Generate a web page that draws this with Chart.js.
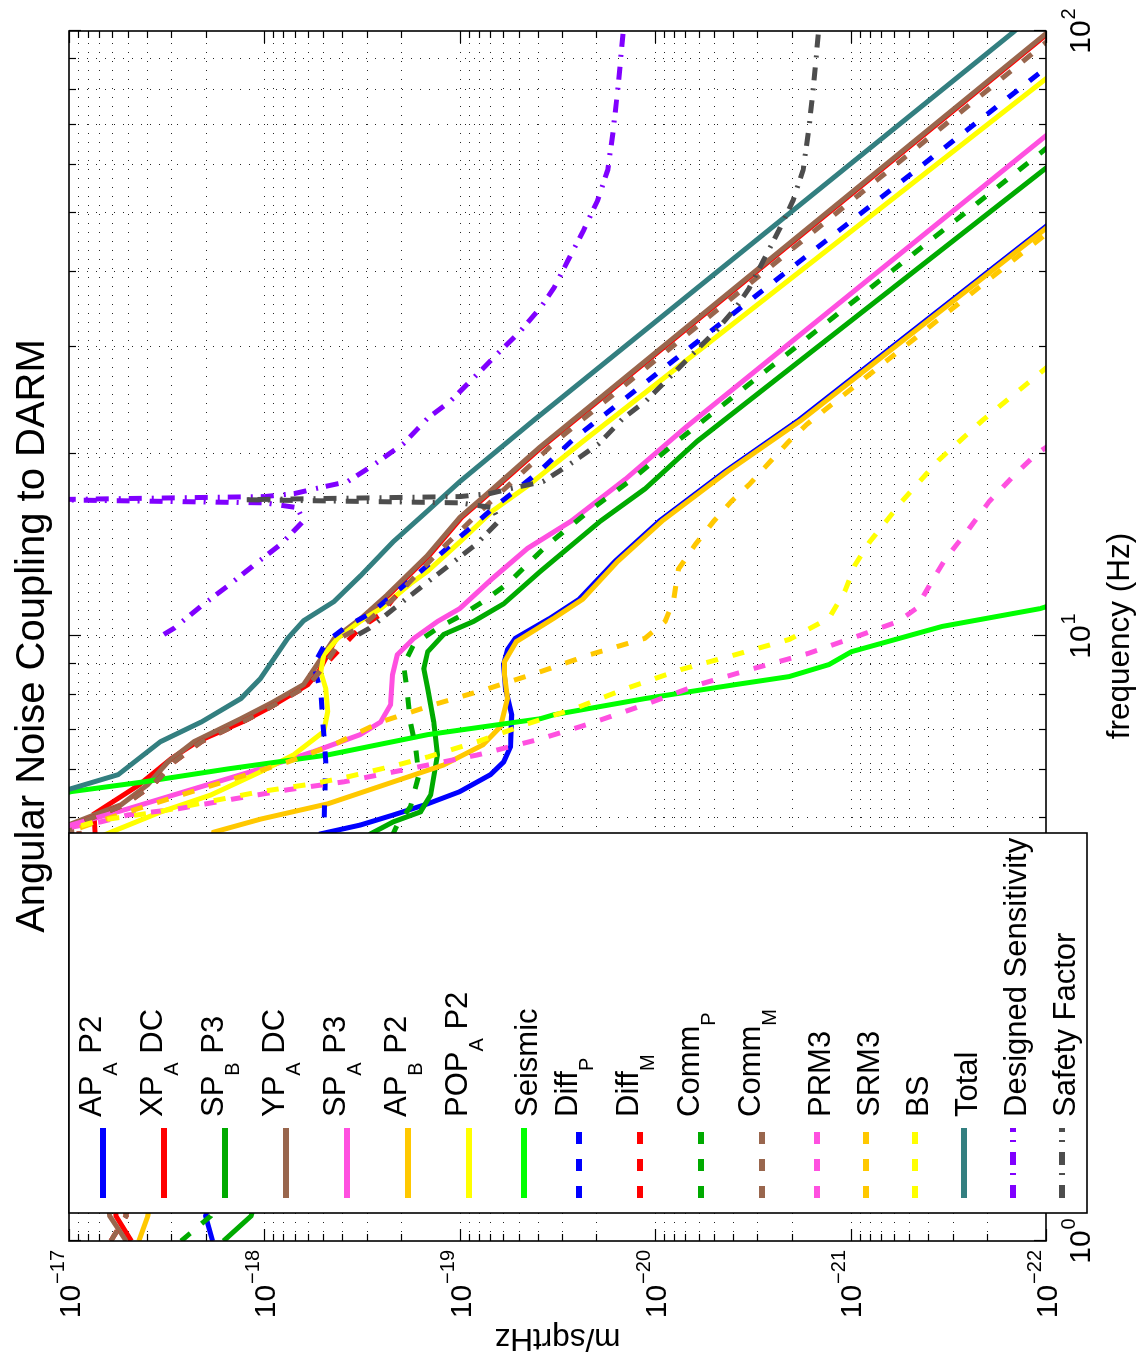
<!DOCTYPE html>
<html>
<head>
<meta charset="utf-8">
<title>Angular Noise Coupling to DARM</title>
<script src="https://cdn.jsdelivr.net/npm/chart.js@4.4.1/dist/chart.umd.min.js"></script>
<style>
  html, body { margin: 0; padding: 0; background: #fff; overflow: hidden; }
  /* the figure is drawn upright and turned a quarter turn, like the original export */
  #page { position: absolute; left: 0; top: 0; width: 1364px; height: 1137px;
          transform-origin: 0 0; transform: translateY(1364px) rotate(-90deg); background: #fff; }
  #chart { display: block; }
</style>
</head>
<body>
<div id="page"><canvas id="chart" width="1364" height="1137" style="width:1364px;height:1137px"></canvas></div>
<script>
// axes
const freqDecades = [1, 10, 100];
const freqTickLabels = ['0', '1', '2'];
const valueDecades = [1e-22, 1e-21, 1e-20, 1e-19, 1e-18, 1e-17];
const valueTickLabels = ['\u221222', '\u221221', '\u221220', '\u221219', '\u221218', '\u221217'];

// series (frequency in Hz, value in m/sqrtHz)
const apAP2Freq = [1.0, 1.1, 4.71, 4.87, 5.06, 5.28, 5.53, 5.90, 6.19, 6.56, 7.41, 8.18, 8.97, 9.50, 9.91, 10.7, 11.5, 13.3, 15.5, 18.7, 22.7, 47.3, 55];
const apAP2Val = [1.84e-18, 2.0e-18, 5.15e-19, 3.23e-19, 2.19e-19, 1.46e-19, 1.0e-19, 6.97e-20, 5.97e-20, 5.5e-20, 5.43e-20, 5.83e-20, 5.97e-20, 5.7e-20, 5.2e-20, 3.45e-20, 2.45e-20, 1.6e-20, 9.5e-21, 4.4e-21, 1.86e-21, 1.02e-22, 5.7e-23];

const xpADCFreq = [1.0, 1.1, 5.08, 5.67, 6.27, 6.69, 7.21, 7.59, 8.31, 8.73, 9.9, 10.7, 11.7, 13.6, 15.7, 17.5, 20.5, 99.3, 105];
const xpADCVal = [4.8e-18, 5.75e-18, 7.45e-18, 4.39e-18, 3.0e-18, 2.2e-18, 1.3e-18, 9.6e-19, 6.0e-19, 5.27e-19, 4.3e-19, 3.12e-19, 2.3e-19, 1.43e-19, 9.8e-20, 6.65e-20, 3.82e-20, 9.7e-23, 7.8e-23];

const spBP3Freq = [1.0, 1.1, 4.71, 4.93, 5.12, 5.46, 6.36, 7.21, 8.18, 8.83, 9.42, 10.06, 10.57, 11.3, 12.8, 15.5, 17.5, 21.0, 59.5, 70.8];
const spBP3Val = [1.62e-18, 1.17e-18, 2.86e-19, 2.19e-19, 1.59e-19, 1.41e-19, 1.30e-19, 1.36e-19, 1.46e-19, 1.53e-19, 1.46e-19, 1.21e-19, 8.5e-20, 5.97e-20, 3.86e-20, 1.9e-20, 1.13e-20, 6.08e-21, 9.9e-23, 5e-23];

const ypADCFreq = [1.0, 1.1, 4.89, 5.06, 5.26, 5.68, 6.19, 6.69, 7.30, 7.79, 8.31, 8.97, 9.9, 10.7, 11.7, 13.6, 15.7, 17.5, 20.5, 99.3, 105];
const ypADCVal = [5.1e-18, 6.2e-18, 9.77e-18, 7.45e-18, 5.42e-18, 3.95e-18, 3.12e-18, 2.29e-18, 1.32e-18, 8.95e-19, 6.3e-19, 5.37e-19, 4.4e-19, 3.2e-19, 2.35e-19, 1.46e-19, 1.0e-19, 6.8e-20, 3.9e-20, 9.9e-23, 8.0e-23];

const spAP3Freq = [4.0, 4.87, 5.18, 5.59, 6.03, 6.44, 6.87, 7.21, 7.70, 8.63, 9.31, 9.91, 10.57, 11.1, 12.45, 13.96, 15.5, 18.2, 22.1, 67.3, 100];
const spAP3Val = [7e-17, 9.77e-18, 5.0e-18, 2.29e-18, 1.05e-18, 5.6e-19, 3.24e-19, 2.54e-19, 2.26e-19, 2.21e-19, 2.09e-19, 1.72e-19, 1.30e-19, 1.0e-19, 6.8e-20, 4.5e-20, 2.68e-20, 1.41e-20, 7.0e-21, 9.9e-23, 2.2e-23];

const apBP2Freq = [1.0, 1.1, 4.74, 4.98, 5.28, 5.74, 6.12, 6.61, 7.08, 7.88, 8.63, 9.07, 9.79, 10.7, 11.5, 13.3, 15.5, 18.7, 22.7, 47.3, 55];
const apBP2Val = [4.39e-18, 3.95e-18, 1.82e-18, 1.05e-18, 4.74e-19, 2.19e-19, 1.21e-19, 7.6e-20, 6.2e-20, 5.7e-20, 5.9e-20, 5.9e-20, 5.13e-20, 3.3e-20, 2.35e-20, 1.55e-20, 9.2e-21, 4.27e-21, 1.8e-21, 9.9e-23, 5.5e-23];

const popAP2Freq = [4.0, 4.74, 5.12, 5.46, 5.96, 6.36, 6.95, 7.5, 8.18, 8.73, 9.31, 9.91, 10.57, 11.1, 12.2, 12.8, 14.3, 16.1, 17.7, 21.0, 83.6, 100];
const popAP2Val = [2.1e-17, 6.1e-18, 3.39e-18, 1.88e-18, 1.05e-18, 7.1e-19, 4.97e-19, 4.74e-19, 4.85e-19, 5.15e-19, 4.97e-19, 4.22e-19, 3.24e-19, 2.54e-19, 1.79e-19, 1.46e-19, 1.0e-19, 6.8e-20, 4.5e-20, 2.33e-20, 9.9e-23, 4.9e-23];

const seismicFreq = [5.0, 5.53, 5.74, 6.03, 6.36, 6.87, 7.30, 7.41, 7.88, 8.31, 8.57, 8.97, 9.42, 10.37, 11.1, 11.6];
const seismicVal = [3e-17, 9.77e-18, 4.14e-18, 1.54e-18, 4.74e-19, 1.46e-19, 3.86e-20, 3.3e-20, 1.13e-20, 3.9e-21, 2.06e-21, 1.29e-21, 9.9e-22, 3.4e-22, 1.07e-22, 7e-23];

const diffPFreq = [3.0, 4.74, 6.2, 8.09, 8.97, 9.79, 10.4, 10.9, 12.5, 14.3, 16.3, 18.6, 21.2, 87.1, 100];
const diffPVal = [5.0e-19, 4.97e-19, 4.85e-19, 5.15e-19, 5.6e-19, 4.8e-19, 3.75e-19, 2.86e-19, 1.72e-19, 1.07e-19, 6.7e-20, 4.0e-20, 2.6e-20, 9.9e-23, 5.8e-23];

const diffMFreq = [1.0, 1.1, 4.9, 5.26, 5.68, 6.19, 6.69, 7.30, 7.79, 8.31, 8.9, 9.6, 10.3, 10.9, 11.5, 12.2];
const diffMVal = [6.1e-18, 5.1e-18, 9.0e-18, 5.2e-18, 3.7e-18, 2.9e-18, 2.1e-18, 1.2e-18, 8.3e-19, 5.9e-19, 5.0e-19, 4.0e-19, 3.25e-19, 2.5e-19, 2.2e-19, 1.85e-19];

const commPFreq = [1.0, 1.1, 4.87, 5.22, 5.89, 6.51, 7.21, 8.0, 8.97, 9.68, 10.3, 10.8, 11.4, 12.2, 14.1, 16.1, 18.2, 21.0, 62.8, 70.8];
const commPVal = [2.67e-18, 1.88e-18, 2.09e-19, 1.79e-19, 1.62e-19, 1.68e-19, 1.79e-19, 1.85e-19, 1.94e-19, 1.72e-19, 1.30e-19, 9.9e-20, 7.6e-20, 5.7e-20, 3.6e-20, 2.18e-20, 1.3e-20, 7.7e-21, 1.07e-22, 6.8e-23];

const commMFreq = [1.0, 1.1, 4.9, 5.26, 5.68, 6.19, 6.69, 7.30, 7.79, 8.31, 8.97, 9.98, 10.4, 11.5, 14.0, 16.1, 18.5, 21.2, 89.5, 100];
const commMVal = [6.1e-18, 5.1e-18, 9.0e-18, 5.2e-18, 3.7e-18, 2.9e-18, 2.1e-18, 1.2e-18, 8.3e-19, 5.9e-19, 4.9e-19, 3.95e-19, 3.15e-19, 2.2e-19, 1.22e-19, 7.8e-20, 4.9e-20, 3.1e-20, 1.29e-22, 8.5e-23];

const prm3Freq = [4.6, 4.83, 4.93, 5.06, 5.18, 5.38, 5.57, 5.74, 5.96, 6.12, 6.36, 6.76, 7.16, 7.70, 8.31, 8.83, 9.35, 10.06, 10.57, 11.1, 12.2, 13.4, 14.9, 16.7, 18.5, 20.0, 21.5];
const prm3Val = [1.8e-17, 9.77e-18, 6.86e-18, 5.0e-18, 2.77e-18, 1.43e-18, 7.6e-19, 3.93e-19, 2.19e-19, 1.46e-19, 8.1e-20, 3.86e-20, 2.17e-20, 1.13e-20, 6.0e-21, 3.16e-21, 1.66e-21, 8.7e-22, 5.7e-22, 4.62e-22, 3.9e-22, 3.28e-22, 2.53e-22, 1.95e-22, 1.44e-22, 1.12e-22, 8e-23];

const srm3Freq = [4.5, 4.87, 5.12, 5.46, 5.81, 6.19, 6.61, 7.21, 7.70, 8.18, 8.73, 9.31, 9.91, 10.57, 11.4, 12.9, 14.2, 15.5, 16.7, 17.8, 19.5, 21.0, 22.4, 47.3, 55];
const srm3Val = [1.6e-17, 8.0e-18, 5.0e-18, 2.67e-18, 1.43e-18, 7.6e-19, 4.42e-19, 2.54e-19, 1.36e-19, 7.2e-20, 3.86e-20, 2.17e-20, 1.13e-20, 8.9e-21, 8.07e-21, 7.6e-21, 6.2e-21, 5.0e-21, 4.07e-21, 3.3e-21, 2.55e-21, 2.06e-21, 1.67e-21, 9.1e-23, 5.1e-23];

const bsFreq = [4.6, 4.96, 5.12, 5.32, 5.53, 5.70, 5.85, 6.12, 6.31, 6.69, 7.16, 7.59, 8.18, 8.80, 9.31, 9.87, 10.7, 11.85, 13.1, 14.3, 16.7, 19.5, 22.7, 27.8, 30];
const bsVal = [1.6e-17, 6.86e-18, 3.5e-18, 1.95e-18, 1.05e-18, 5.6e-19, 3.75e-19, 2.09e-19, 1.46e-19, 8.1e-20, 4.5e-20, 2.57e-20, 1.42e-20, 7.4e-21, 3.9e-21, 2.06e-21, 1.29e-21, 1.07e-21, 9.5e-22, 8.0e-22, 5.45e-22, 3.56e-22, 2.12e-22, 9.9e-23, 7.5e-23];

const totalFreq = [5.0, 5.59, 5.90, 6.69, 7.21, 7.88, 8.50, 9.91, 10.6, 11.4, 12.6, 14.3, 16.1, 18.0, 22.7, 99.6, 105];
const totalVal = [3e-17, 9.8e-18, 5.6e-18, 3.4e-18, 2.1e-18, 1.32e-18, 1.05e-18, 7.6e-19, 6.3e-19, 4.4e-19, 3.2e-19, 2.2e-19, 1.46e-19, 1.0e-19, 4.2e-20, 1.47e-22, 1.23e-22];

const designedFreq = [10.06, 10.3, 11.2, 12.1, 13.1, 14.2, 15.5, 16.3, 16.6, 16.8, 17.0, 17.2, 17.5, 18.0, 19.2, 20.8, 22.9, 24.5, 26.7, 29.3, 31.9, 34.9, 37.6, 41.7, 46.8, 52.5, 58.9, 68.5, 80.8, 99.3, 105];
const designedVal = [3.27e-18, 2.9e-18, 2.11e-18, 1.54e-18, 1.13e-18, 8.2e-19, 6.3e-19, 6.8e-19, 1.0e-18, 1.3e-17, 1.0e-18, 7.0e-19, 5.58e-19, 3.75e-19, 2.75e-19, 1.94e-19, 1.46e-19, 1.11e-19, 8.5e-20, 6.4e-20, 4.9e-20, 3.86e-20, 3.3e-20, 2.8e-20, 2.33e-20, 1.97e-20, 1.75e-20, 1.64e-20, 1.55e-20, 1.46e-20, 1.44e-20];

const safetyFreq = [10.06, 10.3, 11.2, 12.1, 13.1, 14.2, 15.5, 16.3, 16.6, 16.8, 17.0, 17.2, 17.5, 18.0, 19.2, 20.8, 22.9, 24.5, 26.7, 29.3, 31.9, 34.9, 37.6, 41.7, 46.8, 52.5, 58.9, 68.5, 80.8, 99.3, 105];
const safetyVal = [3.3e-19, 2.9e-19, 2.1e-19, 1.55e-19, 1.13e-19, 8.2e-20, 6.3e-20, 6.8e-20, 1.0e-19, 1.3e-18, 1.0e-19, 7.0e-20, 5.6e-20, 3.75e-20, 2.75e-20, 1.94e-20, 1.46e-20, 1.11e-20, 8.5e-21, 6.4e-21, 4.9e-21, 3.86e-21, 3.3e-21, 2.8e-21, 2.33e-21, 1.97e-21, 1.75e-21, 1.64e-21, 1.55e-21, 1.46e-21, 1.44e-21];

const FONT = '"Liberation Sans", Arial, Helvetica, sans-serif';
const DASH = [12, 15];
const DASHDOT = [13, 10, 2, 8];

// label pieces: [text, isSubscript]
const series = [
  {label: [['AP'], ['A', 1], [' P2']], f: apAP2Freq, v: apAP2Val, color: '#0000ff', dash: []},
  {label: [['XP'], ['A', 1], [' DC']], f: xpADCFreq, v: xpADCVal, color: '#ff0000', dash: []},
  {label: [['SP'], ['B', 1], [' P3']], f: spBP3Freq, v: spBP3Val, color: '#00aa00', dash: []},
  {label: [['YP'], ['A', 1], [' DC']], f: ypADCFreq, v: ypADCVal, color: '#99664d', dash: []},
  {label: [['SP'], ['A', 1], [' P3']], f: spAP3Freq, v: spAP3Val, color: '#ff50e0', dash: []},
  {label: [['AP'], ['B', 1], [' P2']], f: apBP2Freq, v: apBP2Val, color: '#ffc800', dash: []},
  {label: [['POP'], ['A', 1], [' P2']], f: popAP2Freq, v: popAP2Val, color: '#ffff00', dash: []},
  {label: [['Seismic']], f: seismicFreq, v: seismicVal, color: '#00ff00', dash: []},
  {label: [['Diff'], ['P', 1]], f: diffPFreq, v: diffPVal, color: '#0000ff', dash: DASH},
  {label: [['Diff'], ['M', 1]], f: diffMFreq, v: diffMVal, color: '#ff0000', dash: DASH},
  {label: [['Comm'], ['P', 1]], f: commPFreq, v: commPVal, color: '#00aa00', dash: DASH},
  {label: [['Comm'], ['M', 1]], f: commMFreq, v: commMVal, color: '#99664d', dash: DASH},
  {label: [['PRM3']], f: prm3Freq, v: prm3Val, color: '#ff50e0', dash: DASH},
  {label: [['SRM3']], f: srm3Freq, v: srm3Val, color: '#ffc800', dash: DASH},
  {label: [['BS']], f: bsFreq, v: bsVal, color: '#ffff00', dash: DASH},
  {label: [['Total']], f: totalFreq, v: totalVal, color: '#337f80', dash: []},
  {label: [['Designed Sensitivity']], f: designedFreq, v: designedVal, color: '#8000ff', dash: DASHDOT},
  {label: [['Safety Factor']], f: safetyFreq, v: safetyVal, color: '#4d4d4d', dash: DASHDOT}
];

// later series sit on top, as in the original
const datasets = series.map((s, i) => ({
  label: s.label.map(p => p[0]).join(''),
  data: s.f.map((f, k) => ({x: f, y: s.v[k]})),
  borderColor: s.color,
  borderWidth: 5,
  borderDash: s.dash,
  pointRadius: 0,
  tension: 0,
  fill: false,
  clip: 0,
  order: series.length - i
}));

function minorList(decades) {
  const out = [];
  for (let i = 0; i < decades.length - 1; i++) {
    for (let k = 1; k <= 9; k++) out.push({v: decades[i] * k, major: k === 1});
  }
  out.push({v: decades[decades.length - 1], major: true});
  return out;
}

function seg(ctx, x1, y1, x2, y2) {
  ctx.beginPath();
  ctx.moveTo(x1, y1);
  ctx.lineTo(x2, y2);
  ctx.stroke();
}

const matlabAxes = {
  id: 'matlabAxes',
  beforeDatasetsDraw(chart) {
    const {ctx, chartArea: a, scales: {x, y}} = chart;
    const fl = minorList(freqDecades);
    const vl = minorList(valueDecades);
    ctx.save();
    ctx.lineWidth = 1;
    ctx.strokeStyle = 'rgba(0,0,0,0.85)';
    ctx.setLineDash([1, 8]);
    fl.slice(1, -1).forEach(t => {
      const px = Math.round(x.getPixelForValue(t.v)) + 0.5;
      seg(ctx, px, a.top, px, a.bottom);
    });
    vl.slice(1, -1).forEach(t => {
      const py = Math.round(y.getPixelForValue(t.v)) + 0.5;
      seg(ctx, a.left, py, a.right, py);
    });
    ctx.setLineDash([]);
    ctx.strokeStyle = '#000';
    ctx.lineWidth = 1.2;
    fl.forEach(t => {
      const px = Math.round(x.getPixelForValue(t.v)) + 0.5;
      const len = t.major ? 12 : 7;
      seg(ctx, px, a.bottom, px, a.bottom - len);
      seg(ctx, px, a.top, px, a.top + len);
    });
    vl.forEach(t => {
      const py = Math.round(y.getPixelForValue(t.v)) + 0.5;
      const len = t.major ? 12 : 7;
      seg(ctx, a.left, py, a.left + len, py);
      seg(ctx, a.right, py, a.right - len, py);
    });
    ctx.restore();
  },
  afterDatasetsDraw(chart) {
    const {ctx, chartArea: a} = chart;
    ctx.save();
    ctx.strokeStyle = '#000';
    ctx.lineWidth = 1.6;
    ctx.strokeRect(a.left, a.top, a.right - a.left, a.bottom - a.top);
    ctx.restore();
  },
  afterDraw(chart) {
    const {ctx, chartArea: a, scales: {x, y}} = chart;
    ctx.save();
    ctx.fillStyle = '#000';
    ctx.textBaseline = 'alphabetic';

    // frequency tick labels
    freqDecades.forEach((f, i) => {
      const px = x.getPixelForValue(f);
      ctx.font = '30px ' + FONT;
      const w10 = ctx.measureText('10').width;
      ctx.font = '20px ' + FONT;
      const ws = ctx.measureText(freqTickLabels[i]).width;
      const start = px - (w10 + 1 + ws) / 2;
      ctx.textAlign = 'left';
      ctx.font = '30px ' + FONT;
      ctx.fillText('10', start, a.bottom + 44);
      ctx.font = '20px ' + FONT;
      ctx.fillText(freqTickLabels[i], start + w10 + 1, a.bottom + 29);
    });

    // value tick labels
    valueDecades.forEach((v, i) => {
      const py = y.getPixelForValue(v);
      ctx.font = '20px ' + FONT;
      const ws = ctx.measureText(valueTickLabels[i]).width;
      const supStart = a.left - 9 - ws;
      ctx.textAlign = 'left';
      ctx.fillText(valueTickLabels[i], supStart, py - 5.5);
      ctx.font = '30px ' + FONT;
      ctx.textAlign = 'right';
      ctx.fillText('10', supStart - 1, py + 10.7);
    });

    // title and axis labels
    const cx = (a.left + a.right) / 2;
    ctx.textAlign = 'center';
    ctx.font = '40px ' + FONT;
    ctx.fillText('Angular Noise Coupling to DARM', cx, 44);
    ctx.font = '31.5px ' + FONT;
    ctx.fillText('frequency (Hz)', cx, 1129);
    ctx.save();
    ctx.translate(35, (a.top + a.bottom) / 2);
    ctx.rotate(-Math.PI / 2);
    ctx.fillText('m/sqrtHz', 0, 0);
    ctx.restore();

    // legend
    const box = {left: 151, top: a.top, right: 531, bottom: 1087};
    ctx.fillStyle = '#fff';
    ctx.fillRect(box.left, box.top, box.right - box.left, box.bottom - box.top);
    ctx.strokeStyle = '#000';
    ctx.lineWidth = 1.6;
    ctx.strokeRect(box.left, box.top, box.right - box.left, box.bottom - box.top);

    let rowTop = box.top + 3.5;
    series.forEach(s => {
      const hasSub = s.label.some(p => p[1]);
      const h = hasSub ? 61 : 49;
      const rowY = rowTop + h / 2;
      ctx.save();
      ctx.strokeStyle = s.color;
      ctx.lineWidth = 6;
      ctx.setLineDash(s.dash);
      seg(ctx, 166, rowY, 236, rowY);
      ctx.restore();

      ctx.fillStyle = '#000';
      ctx.textAlign = 'left';
      let tx = 247;
      const baseY = hasSub ? rowY - 2 : rowY + 12.5;
      s.label.forEach(p => {
        ctx.font = (p[1] ? '20px ' : '31px ') + FONT;
        ctx.fillText(p[0], tx, p[1] ? rowY + 14 : baseY);
        tx += ctx.measureText(p[0]).width;
      });
      rowTop += h;
    });
    ctx.restore();
  }
};

new Chart(document.getElementById('chart'), {
  type: 'line',
  data: {datasets: datasets},
  options: {
    responsive: false,
    animation: false,
    devicePixelRatio: 1,
    events: [],
    layout: {padding: {left: 123, right: 31, top: 69, bottom: 91}},
    scales: {
      x: {type: 'logarithmic', min: 1, max: 100, display: false},
      y: {type: 'logarithmic', min: 1e-22, max: 1e-17, display: false}
    },
    plugins: {
      legend: {display: false},
      tooltip: {enabled: false},
      title: {display: false}
    }
  },
  plugins: [matlabAxes]
});
</script>
</body>
</html>
